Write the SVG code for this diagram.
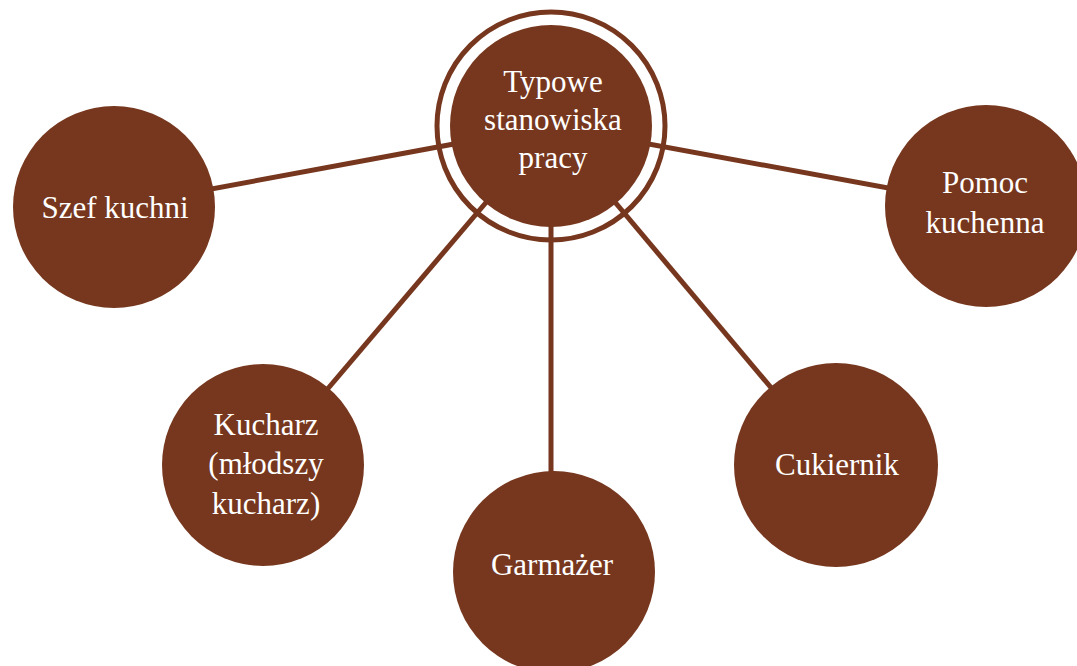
<svg xmlns="http://www.w3.org/2000/svg" width="1077" height="666" viewBox="0 0 1077 666">
  <style>
    .node { fill: #76371e; }
    .ring { fill: none; stroke: #76371e; stroke-width: 5; }
    .conn { stroke: #76371e; stroke-width: 5; fill: none; }
    .lbl { font-family: "Liberation Serif", "Times New Roman", serif; font-size: 31px; fill: #ffffff; text-anchor: middle; }
  </style>
  <rect width="1077" height="666" fill="#ffffff"/>
  <g id="connectors">
    <line class="conn" x1="551" y1="126" x2="114" y2="207"/>
    <line class="conn" x1="551" y1="126" x2="986" y2="206"/>
    <line class="conn" x1="551" y1="126" x2="263" y2="465"/>
    <line class="conn" x1="551" y1="126" x2="551" y2="570"/>
    <line class="conn" x1="551" y1="126" x2="836" y2="465"/>
  </g>
  <g id="center">
    <circle class="ring" cx="551" cy="126" r="114"/>
    <circle class="node" cx="551" cy="126" r="101"/>
    <text class="lbl" x="553" y="92">Typowe</text>
    <text class="lbl" x="553" y="130">stanowiska</text>
    <text class="lbl" x="553" y="168">pracy</text>
  </g>
  <g id="szef">
    <circle class="node" cx="114" cy="207" r="101"/>
    <text class="lbl" x="115" y="218">Szef kuchni</text>
  </g>
  <g id="pomoc">
    <circle class="node" cx="986" cy="206" r="101"/>
    <text class="lbl" x="985" y="193">Pomoc</text>
    <text class="lbl" x="985" y="233">kuchenna</text>
  </g>
  <g id="kucharz">
    <circle class="node" cx="263" cy="465" r="101"/>
    <text class="lbl" x="266" y="435">Kucharz</text>
    <text class="lbl" x="266" y="474">(młodszy</text>
    <text class="lbl" x="266" y="514">kucharz)</text>
  </g>
  <g id="garmazer">
    <circle class="node" cx="554" cy="572" r="101"/>
    <text class="lbl" x="552" y="575">Garmażer</text>
  </g>
  <g id="cukiernik">
    <circle class="node" cx="836" cy="465" r="102"/>
    <text class="lbl" x="837" y="475">Cukiernik</text>
  </g>
</svg>
